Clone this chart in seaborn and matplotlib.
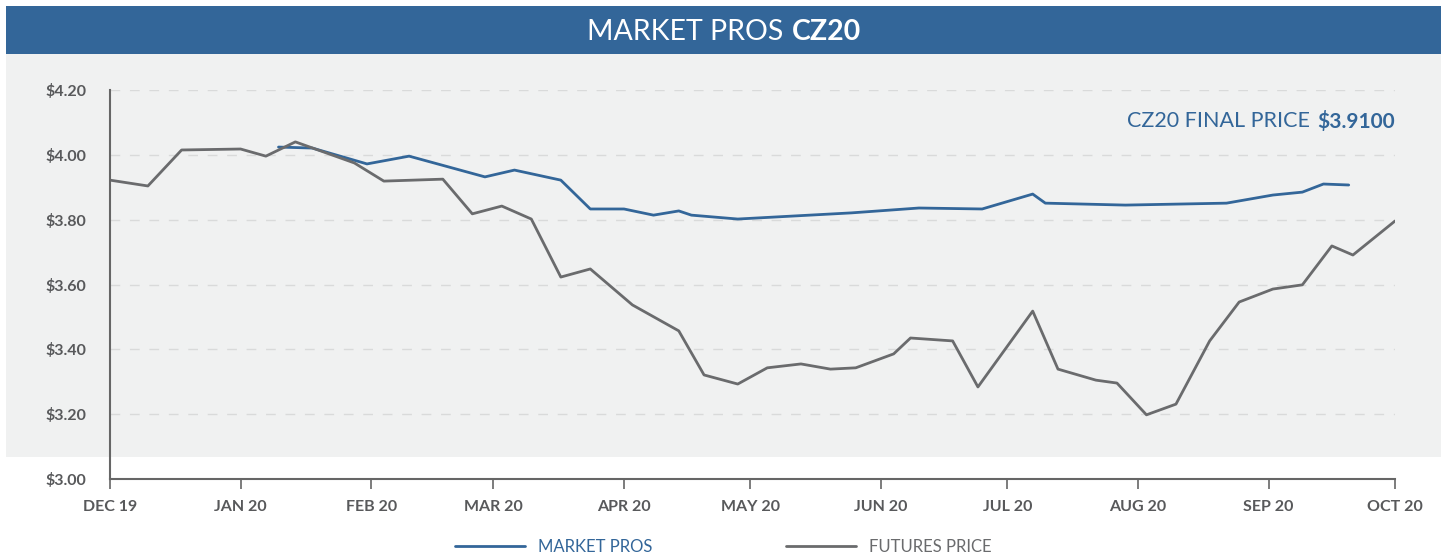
import matplotlib
matplotlib.use('Agg')
import matplotlib.pyplot as plt
import pandas as pd
import seaborn as sns
from matplotlib.patches import Rectangle
from matplotlib.lines import Line2D

# Futures price (gray line)
futures_dates = ['2019-12-01', '2019-12-10', '2019-12-18', '2020-01-01', '2020-01-07',
                 '2020-01-14', '2020-01-28', '2020-02-04', '2020-02-18', '2020-02-25',
                 '2020-03-03', '2020-03-10', '2020-03-17', '2020-03-24', '2020-04-03',
                 '2020-04-14', '2020-04-20', '2020-04-28', '2020-05-05', '2020-05-13',
                 '2020-05-20', '2020-05-26', '2020-06-04', '2020-06-08', '2020-06-18',
                 '2020-06-24', '2020-07-07', '2020-07-13', '2020-07-22', '2020-07-27',
                 '2020-08-03', '2020-08-10', '2020-08-18', '2020-08-25', '2020-09-02',
                 '2020-09-09', '2020-09-16', '2020-09-21', '2020-10-01']
futures_price = [3.922, 3.904, 4.015, 4.018, 3.996,
                 4.040, 3.975, 3.919, 3.925, 3.818,
                 3.842, 3.802, 3.623, 3.648, 3.537,
                 3.457, 3.321, 3.293, 3.343, 3.355,
                 3.339, 3.343, 3.386, 3.435, 3.426,
                 3.284, 3.518, 3.339, 3.305, 3.296,
                 3.198, 3.231, 3.426, 3.546, 3.586,
                 3.599, 3.719, 3.691, 3.796]

# Market Pros (blue line)
pros_dates = ['2020-01-10', '2020-01-18', '2020-01-31', '2020-02-10', '2020-02-28',
              '2020-03-06', '2020-03-17', '2020-03-24', '2020-04-01', '2020-04-08',
              '2020-04-14', '2020-04-17', '2020-04-28', '2020-05-25', '2020-06-10',
              '2020-06-25', '2020-07-07', '2020-07-10', '2020-07-29', '2020-08-22',
              '2020-09-02', '2020-09-09', '2020-09-14', '2020-09-20']
pros_price = [4.024, 4.021, 3.972, 3.996, 3.932,
              3.953, 3.922, 3.833, 3.833, 3.814,
              3.827, 3.814, 3.802, 3.821, 3.836,
              3.833, 3.879, 3.851, 3.845, 3.851,
              3.876, 3.885, 3.910, 3.907]

month_labels = ['DEC 19', 'JAN 20', 'FEB 20', 'MAR 20', 'APR 20', 'MAY 20',
                'JUN 20', 'JUL 20', 'AUG 20', 'SEP 20', 'OCT 20']
y_ticks = [3.00, 3.20, 3.40, 3.60, 3.80, 4.00, 4.20]

BLUE = '#336699'
GRAY = '#6a6b6d'
TEXT = '#58595b'

df_fut = pd.DataFrame({'date': pd.to_datetime(futures_dates), 'price': futures_price})
df_pros = pd.DataFrame({'date': pd.to_datetime(pros_dates), 'price': pros_price})
month_ticks = pd.date_range('2019-12-01', '2020-10-01', freq='MS')

sns.set_theme(style='white')
plt.rcParams['font.family'] = ['Lato', 'DejaVu Sans']

fig = plt.figure(figsize=(14.47, 5.57), dpi=100)

# header bar and gray panel
fig.add_artist(Rectangle((0.0042, 0.9031), 0.9917, 0.0862, transform=fig.transFigure,
                         facecolor='#336699', edgecolor='none', zorder=0))
fig.add_artist(Rectangle((0.0042, 0.1795), 0.9917, 0.7236, transform=fig.transFigure,
                         facecolor='#f0f1f1', edgecolor='none', zorder=0))
fig.text(0.5415, 0.9425, 'MARKET PROS', color='white', fontsize=20.5, ha='right', va='center')
fig.text(0.5475, 0.9425, 'CZ20', color='white', fontsize=20.5, fontweight='bold', ha='left', va='center')

ax = fig.add_axes([0.0760, 0.1400, 0.8881, 0.6984])
ax.set_facecolor('none')
ax.set_zorder(2)

sns.lineplot(data=df_pros, x='date', y='price', color=BLUE, linewidth=2.0, ax=ax)
sns.lineplot(data=df_fut, x='date', y='price', color=GRAY, linewidth=2.0, ax=ax)

ax.set_xlim(month_ticks[0], month_ticks[-1])
ax.set_ylim(3.0, 4.2)
ax.set_xticks(month_ticks)
ax.set_xticklabels(month_labels)
ax.set_yticks(y_ticks)
ax.set_yticklabels(['\\$%.2f' % v for v in y_ticks])
ax.set_xlabel('')
ax.set_ylabel('')

for v in y_ticks[1:]:
    ax.axhline(v, color='#d9dada', linewidth=1.0, linestyle=(0, (7, 7)), zorder=0)

for s in ['top', 'right']:
    ax.spines[s].set_visible(False)
for s in ['left', 'bottom']:
    ax.spines[s].set_color('#666666')
    ax.spines[s].set_linewidth(1.5)

ax.tick_params(axis='x', bottom=True, direction='out', length=7, width=1.2, color='#666666',
               pad=8, labelsize=11.5, labelcolor=TEXT)
ax.tick_params(axis='y', left=False, length=0, pad=17, labelsize=11.5, labelcolor=TEXT)
for lab in ax.get_xticklabels() + ax.get_yticklabels():
    lab.set_fontweight('bold')

# final price note
bold = ax.text(1.0, 0.92, '\\$3.9100', transform=ax.transAxes, ha='right', va='center',
               fontsize=15, fontweight='bold', color=BLUE)
ax.annotate('CZ20 FINAL PRICE', xy=(0, 0.5), xycoords=bold, xytext=(-5, 0),
            textcoords='offset points', ha='right', va='center', fontsize=15.5, color=BLUE)

handles = [Line2D([], [], color=BLUE, linewidth=2.0), Line2D([], [], color=GRAY, linewidth=2.0)]
fig.legend(handles, ['MARKET PROS', 'FUTURES PRICE'], loc='center', bbox_to_anchor=(0.5, 0.018),
           ncol=2, frameon=False, handlelength=4.2, columnspacing=8, fontsize=12,
           labelcolor=[BLUE, GRAY])

fig.savefig('out.png', dpi=100)
